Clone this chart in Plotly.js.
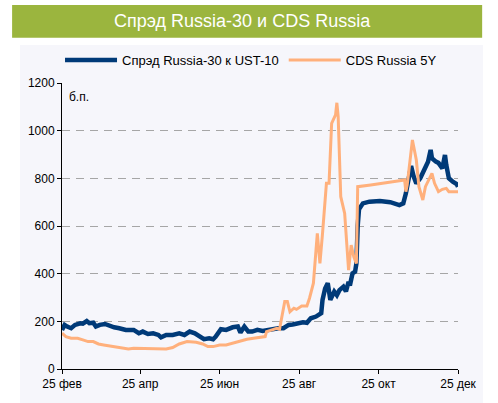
<!DOCTYPE html>
<html>
<head>
<meta charset="utf-8">
<script src="https://cdn.plot.ly/plotly-3.0.1.min.js"></script>
<style>html,body{margin:0;padding:0;background:#fff;}#chart{width:498px;height:403px;}</style>
</head>
<body>
<div id="chart"></div>
<script>
const spreadDates = ["2008-02-25","2008-02-27","2008-02-29","2008-03-03","2008-03-06","2008-03-10","2008-03-12","2008-03-15","2008-03-17","2008-03-20","2008-03-22","2008-03-25","2008-03-29","2008-04-02","2008-04-05","2008-04-09","2008-04-14","2008-04-20","2008-04-24","2008-04-27","2008-05-01","2008-05-05","2008-05-09","2008-05-11","2008-05-15","2008-05-20","2008-05-25","2008-05-29","2008-06-02","2008-06-06","2008-06-10","2008-06-13","2008-06-17","2008-06-20","2008-06-22","2008-06-26","2008-06-30","2008-07-05","2008-07-09","2008-07-11","2008-07-14","2008-07-17","2008-07-20","2008-07-24","2008-07-28","2008-08-01","2008-08-05","2008-08-09","2008-08-13","2008-08-17","2008-08-20","2008-08-24","2008-08-28","2008-08-31","2008-09-03","2008-09-07","2008-09-11","2008-09-12","2008-09-14","2008-09-16","2008-09-18","2008-09-21","2008-09-23","2008-09-25","2008-09-28","2008-09-30","2008-10-02","2008-10-03","2008-10-05","2008-10-07","2008-10-08","2008-10-09","2008-10-10","2008-10-13","2008-10-18","2008-10-26","2008-11-03","2008-11-10","2008-11-13","2008-11-15","2008-11-17","2008-11-19","2008-11-21","2008-11-23","2008-11-26","2008-11-29","2008-12-02","2008-12-04","2008-12-05","2008-12-08","2008-12-10","2008-12-13","2008-12-15","2008-12-16","2008-12-18","2008-12-21","2008-12-24","2008-12-25"];
const spreadValues = [164,185,178,171,185,192,190,201,192,194,178,185,189,178,175,171,164,164,150,157,147,150,143,133,143,143,150,143,157,150,136,125,129,125,136,167,164,175,178,153,178,157,157,164,160,164,167,171,171,185,187,192,196,194,213,220,234,290,338,360,290,325,310,331,345,325,366,350,401,408,443,600,670,695,702,705,700,688,695,737,807,852,807,779,800,835,870,919,884,870,865,842,898,856,800,786,776,765];

const cdsDates = ["2008-02-25","2008-02-28","2008-03-03","2008-03-08","2008-03-12","2008-03-16","2008-03-20","2008-03-24","2008-03-28","2008-04-02","2008-04-07","2008-04-12","2008-04-16","2008-04-20","2008-04-25","2008-04-30","2008-05-05","2008-05-10","2008-05-15","2008-05-20","2008-05-25","2008-05-31","2008-06-03","2008-06-07","2008-06-12","2008-06-16","2008-06-20","2008-06-25","2008-06-30","2008-07-05","2008-07-08","2008-07-12","2008-07-16","2008-07-21","2008-07-26","2008-07-30","2008-07-31","2008-08-04","2008-08-08","2008-08-10","2008-08-12","2008-08-14","2008-08-16","2008-08-18","2008-08-21","2008-08-23","2008-08-27","2008-08-31","2008-09-02","2008-09-05","2008-09-08","2008-09-10","2008-09-12","2008-09-15","2008-09-17","2008-09-19","2008-09-22","2008-09-23","2008-09-24","2008-09-26","2008-09-29","2008-10-02","2008-10-04","2008-10-06","2008-10-08","2008-10-09","2008-10-19","2008-11-14","2008-11-15","2008-11-16","2008-11-20","2008-11-23","2008-11-25","2008-11-28","2008-11-30","2008-12-02","2008-12-05","2008-12-07","2008-12-10","2008-12-13","2008-12-16","2008-12-18","2008-12-25"];
const cdsValues = [150,136,129,129,122,115,115,105,101,97,94,90,84,87,87,87,87,87,84,90,105,115,115,112,105,94,94,101,101,108,115,118,125,129,133,136,157,164,171,167,234,283,283,240,255,250,264,264,297,360,569,443,569,779,779,1031,1066,1117,1060,723,653,415,520,471,443,765,772,793,744,772,961,877,765,709,765,786,821,779,744,754,758,744,744];

const seriesNames = ["Спрэд Russia-30 к UST-10","CDS Russia 5Y"];
const tickDates = ["2008-02-25","2008-04-25","2008-06-25","2008-08-25","2008-10-25","2008-12-25"];
const tickLabels = ["25 фев","25 апр","25 июн","25 авг","25 окт","25 дек"];
const chartTitle = "Спрэд Russia-30 и CDS Russia";
const unitLabel = "б.п.";

const FONT = "Liberation Sans, Arial, sans-serif";

const traces = [
  {x: spreadDates, y: spreadValues, name: seriesNames[0], type: "scatter", mode: "lines",
   line: {color: "#003A78", width: 4.5}},
  {x: cdsDates, y: cdsValues, name: seriesNames[1], type: "scatter", mode: "lines",
   line: {color: "#FFB07C", width: 3}}
];

const layout = {
  width: 498, height: 403,
  margin: {l: 62, r: 40, t: 83, b: 34, pad: 0},
  paper_bgcolor: "#FFFFFF",
  plot_bgcolor: "#F6F6FB",
  font: {family: FONT, size: 12, color: "#000"},
  showlegend: true,
  legend: {orientation: "h", x: -0.005, xanchor: "left", y: 1.08, yanchor: "middle",
           bgcolor: "rgba(0,0,0,0)", font: {family: FONT, size: 13, color: "#000"},
           itemwidth: 52, tracegroupgap: 0},
  xaxis: {type: "date", range: [tickDates[0], tickDates[tickDates.length - 1]],
          tickvals: tickDates, ticktext: tickLabels,
          showgrid: false, zeroline: false, showline: true, linecolor: "#000", linewidth: 1,
          ticks: "outside", ticklen: 4, tickcolor: "#000",
          tickfont: {family: FONT, size: 12, color: "#000"}, fixedrange: true},
  yaxis: {range: [0, 1200], dtick: 200, tick0: 0,
          showgrid: true, gridcolor: "#A6A6A6", griddash: "8px,6px", gridwidth: 1,
          zeroline: false, showline: true, linecolor: "#000", linewidth: 1,
          ticks: "outside", ticklen: 4, tickcolor: "#000",
          tickfont: {family: FONT, size: 12, color: "#000"}, fixedrange: true},
  shapes: [
    {type: "rect", xref: "paper", yref: "paper", x0: -0.106, x1: 1.063, y0: -0.12, y1: 1.133,
     fillcolor: "#F6F6FB", line: {width: 0}, layer: "below"},
    {type: "rect", xref: "paper", yref: "paper", x0: -0.126, x1: 1.061, y0: 1.158, y1: 1.273,
     fillcolor: "#9BB53E", line: {width: 0}, layer: "below"}
  ],
  annotations: [
    {text: chartTitle, xref: "paper", yref: "paper", x: 0.456, y: 1.2155, xanchor: "center", yanchor: "middle",
     showarrow: false, font: {family: FONT, size: 18, color: "#FFFFFF"}},
    {text: unitLabel, xref: "paper", yref: "paper", x: 0.012, y: 0.952, xanchor: "left", yanchor: "middle",
     showarrow: false, font: {family: FONT, size: 12, color: "#000"}}
  ]
};

Plotly.newPlot("chart", traces, layout, {displayModeBar: false, staticPlot: true});
</script>
</body>
</html>
